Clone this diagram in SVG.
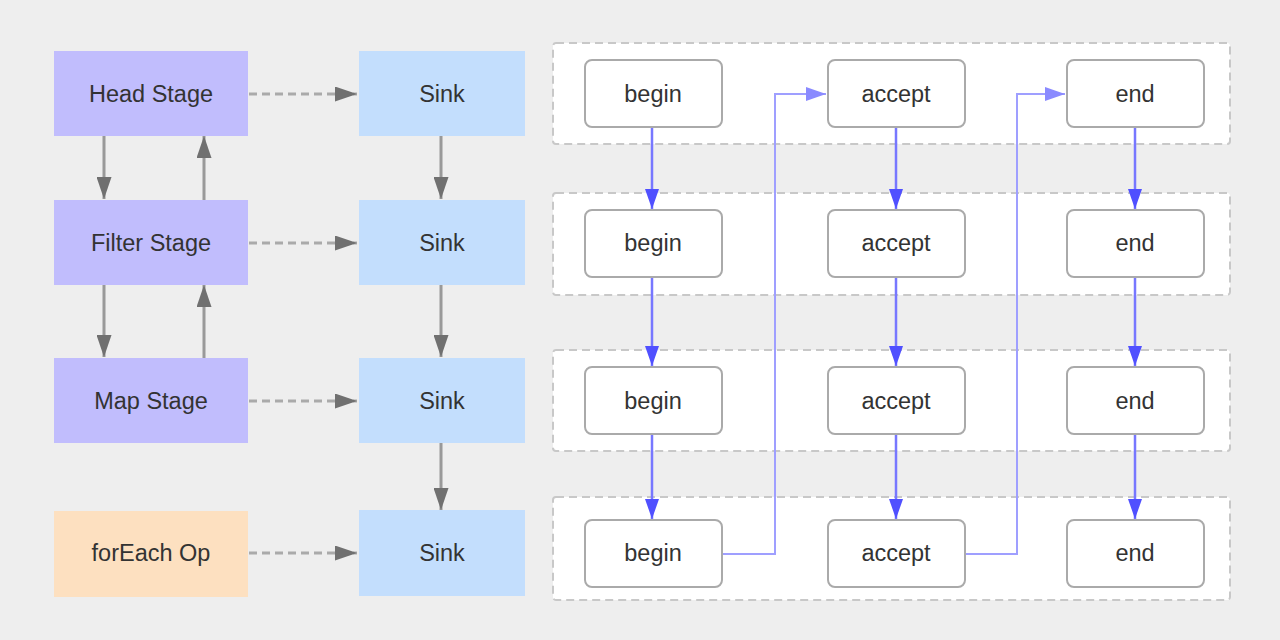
<svg xmlns="http://www.w3.org/2000/svg" width="1280" height="640" viewBox="0 0 1280 640">
<style>
text{font-family:"Liberation Sans","Noto Sans",Arial,sans-serif;font-size:23.5px;fill:#333;text-anchor:middle;dominant-baseline:central}
.stage{fill:#c1bdfd}
.sink{fill:#c3defd}
.op{fill:#fde0c0}
.grp{fill:#fff;stroke:#c8c8c8;stroke-width:2;stroke-dasharray:8 5}
.fn{fill:#fff;stroke:#aaa;stroke-width:2}
.ga{stroke:#999;stroke-width:3;fill:none}
.gd{stroke:#aaa;stroke-width:3;fill:none;stroke-dasharray:8 5}
.bv{stroke:#7777ff;stroke-width:2.5;fill:none}
.bl{stroke:#9f9fff;stroke-width:2;fill:none}
</style>
<defs>
<marker id="ag" markerWidth="22" markerHeight="15" refX="22" refY="7.5" orient="auto" markerUnits="userSpaceOnUse"><path d="M0,0 L22,7.5 L0,15 Z" fill="#707070"/></marker>
<marker id="ab" markerWidth="20" markerHeight="14" refX="20" refY="7" orient="auto" markerUnits="userSpaceOnUse"><path d="M0,0 L20,7 L0,14 Z" fill="#5050ff"/></marker>
<marker id="al" markerWidth="20" markerHeight="14" refX="20" refY="7" orient="auto" markerUnits="userSpaceOnUse"><path d="M0,0 L20,7 L0,14 Z" fill="#8a8aff"/></marker>
</defs>
<rect width="1280" height="640" fill="#eeeeee"/>

<g id="containers">
<rect id="row1" class="grp" x="553" y="43" width="677" height="101" rx="3"/>
<rect id="row2" class="grp" x="553" y="193" width="677" height="102" rx="3"/>
<rect id="row3" class="grp" x="553" y="350" width="677" height="101" rx="3"/>
<rect id="row4" class="grp" x="553" y="497" width="677" height="103" rx="3"/>
</g>

<g id="connectors">
<line class="ga" x1="104" y1="136" x2="104" y2="199" marker-end="url(#ag)"/>
<line class="ga" x1="204" y1="200" x2="204" y2="136" marker-end="url(#ag)"/>
<line class="ga" x1="104" y1="285" x2="104" y2="357" marker-end="url(#ag)"/>
<line class="ga" x1="204" y1="358" x2="204" y2="285" marker-end="url(#ag)"/>
<line class="ga" x1="441" y1="136" x2="441" y2="199" marker-end="url(#ag)"/>
<line class="ga" x1="441" y1="285" x2="441" y2="357" marker-end="url(#ag)"/>
<line class="ga" x1="441" y1="443" x2="441" y2="510" marker-end="url(#ag)"/>
<line class="gd" x1="249" y1="94" x2="357" y2="94" marker-end="url(#ag)"/>
<line class="gd" x1="249" y1="243" x2="357" y2="243" marker-end="url(#ag)"/>
<line class="gd" x1="249" y1="401" x2="357" y2="401" marker-end="url(#ag)"/>
<line class="gd" x1="249" y1="553" x2="357" y2="553" marker-end="url(#ag)"/>

<line class="bv" x1="652" y1="127" x2="652" y2="209" marker-end="url(#ab)"/>
<line class="bv" x1="652" y1="277" x2="652" y2="366" marker-end="url(#ab)"/>
<line class="bv" x1="652" y1="434" x2="652" y2="519" marker-end="url(#ab)"/>
<line class="bv" x1="896" y1="127" x2="896" y2="209" marker-end="url(#ab)"/>
<line class="bv" x1="896" y1="277" x2="896" y2="366" marker-end="url(#ab)"/>
<line class="bv" x1="896" y1="434" x2="896" y2="519" marker-end="url(#ab)"/>
<line class="bv" x1="1135" y1="127" x2="1135" y2="209" marker-end="url(#ab)"/>
<line class="bv" x1="1135" y1="277" x2="1135" y2="366" marker-end="url(#ab)"/>
<line class="bv" x1="1135" y1="434" x2="1135" y2="519" marker-end="url(#ab)"/>
<polyline class="bl" points="723,554 775,554 775,94 826,94" marker-end="url(#al)"/>
<polyline class="bl" points="966,554 1017,554 1017,94 1065,94" marker-end="url(#al)"/>
</g>

<g id="head-stage"><rect class="stage" x="54" y="51" width="194" height="85"/><text x="151" y="94">Head Stage</text></g>
<g id="filter-stage"><rect class="stage" x="54" y="200" width="194" height="85"/><text x="151" y="243">Filter Stage</text></g>
<g id="map-stage"><rect class="stage" x="54" y="358" width="194" height="85"/><text x="151" y="401">Map Stage</text></g>
<g id="foreach-op"><rect class="op" x="54" y="511" width="194" height="86"/><text x="151" y="553">forEach Op</text></g>

<g id="sink1"><rect class="sink" x="359" y="51" width="166" height="85"/><text x="442" y="94">Sink</text></g>
<g id="sink2"><rect class="sink" x="359" y="200" width="166" height="85"/><text x="442" y="243">Sink</text></g>
<g id="sink3"><rect class="sink" x="359" y="358" width="166" height="85"/><text x="442" y="401">Sink</text></g>
<g id="sink4"><rect class="sink" x="359" y="510" width="166" height="86"/><text x="442" y="553">Sink</text></g>

<g id="begin1"><rect class="fn" x="585" y="60" width="137" height="67" rx="7"/><text x="653" y="94">begin</text></g>
<g id="accept1"><rect class="fn" x="828" y="60" width="137" height="67" rx="7"/><text x="896" y="94">accept</text></g>
<g id="end1"><rect class="fn" x="1067" y="60" width="137" height="67" rx="7"/><text x="1135" y="94">end</text></g>

<g id="begin2"><rect class="fn" x="585" y="210" width="137" height="67" rx="7"/><text x="653" y="243">begin</text></g>
<g id="accept2"><rect class="fn" x="828" y="210" width="137" height="67" rx="7"/><text x="896" y="243">accept</text></g>
<g id="end2"><rect class="fn" x="1067" y="210" width="137" height="67" rx="7"/><text x="1135" y="243">end</text></g>

<g id="begin3"><rect class="fn" x="585" y="367" width="137" height="67" rx="7"/><text x="653" y="401">begin</text></g>
<g id="accept3"><rect class="fn" x="828" y="367" width="137" height="67" rx="7"/><text x="896" y="401">accept</text></g>
<g id="end3"><rect class="fn" x="1067" y="367" width="137" height="67" rx="7"/><text x="1135" y="401">end</text></g>

<g id="begin4"><rect class="fn" x="585" y="520" width="137" height="67" rx="7"/><text x="653" y="553">begin</text></g>
<g id="accept4"><rect class="fn" x="828" y="520" width="137" height="67" rx="7"/><text x="896" y="553">accept</text></g>
<g id="end4"><rect class="fn" x="1067" y="520" width="137" height="67" rx="7"/><text x="1135" y="553">end</text></g>
</svg>
